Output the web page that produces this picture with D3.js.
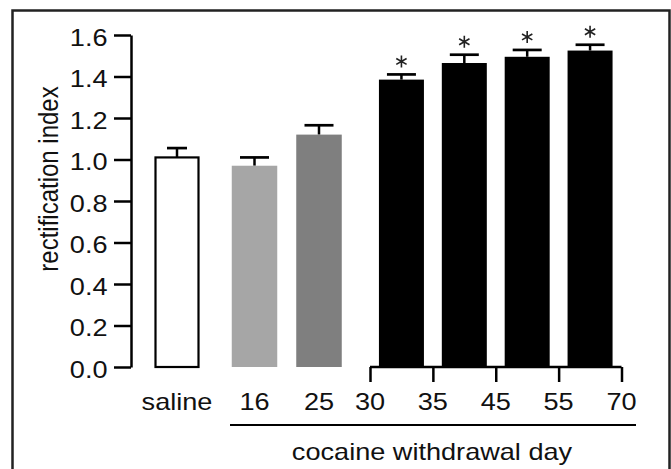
<!DOCTYPE html>
<html lang="en">
<head>
  <meta charset="UTF-8">
  <title>Rectification index</title>
  <script src="https://d3js.org/d3.v7.min.js"></script>
  <style>
    body { margin: 0; background: white; font-family: Arial, "Liberation Sans", sans-serif; }
    .axis line, .axis path { stroke: black; stroke-width: 2.5px; }
    .lbl { font-size: 24px; fill: #111; font-family: Arial, "Liberation Sans", sans-serif; }
  </style>
</head>
<body>
<svg id="chart"></svg>
<script>
// data
const controlLabels = ["saline", "16", "25"];
const controlValues = [1.01, 0.97, 1.12];
const controlErrors = [0.045, 0.04, 0.045];
const controlColors = ["white", "#a6a6a6", "#7f7f7f"];

const dayTicks = [30, 35, 45, 55, 70];
const lateValues = [1.385, 1.465, 1.495, 1.525];
const lateErrors = [0.025, 0.04, 0.033, 0.028];

const yTicks = [0, 0.2, 0.4, 0.6, 0.8, 1.0, 1.2, 1.4, 1.6];

const width = 671, height = 469;
const sx = 1.13; // the original figure is a bit wider than tall
const svg = d3.select("#chart").attr("width", width).attr("height", height);

function label(x, y, txt, anchor) {
  return svg.append("text").attr("class", "lbl")
    .attr("transform", `translate(${x},${y}) scale(${sx},1)`)
    .attr("text-anchor", anchor || "middle")
    .text(txt);
}

// frame
svg.append("path")
  .attr("d", `M12.5,${height} V10.5 H669.5 V${height}`)
  .attr("fill", "none").attr("stroke", "#222").attr("stroke-width", 2.5);

const y = d3.scaleLinear().domain([0, 1.6]).range([367, 35]);

// left categories (uneven spacing in the original)
const xc = d3.scaleOrdinal().domain(controlLabels).range([177, 254.5, 319]);
// right side is a day axis, ticks evenly spaced
const xd = d3.scalePoint().domain(dayTicks).range([370, 621.5]);

// y axis
const yAxis = svg.append("g").attr("class", "axis")
  .attr("transform", "translate(131,0)")
  .call(d3.axisLeft(y).tickValues(yTicks).tickFormat(d3.format(".1f")).tickSize(17).tickSizeOuter(0));
yAxis.selectAll("text")
  .attr("class", "lbl").attr("font-size", null).attr("font-family", null)
  .attr("x", null).attr("dy", "0.42em")
  .attr("transform", `translate(-23.5,0) scale(${sx},1)`);

// y label
svg.append("text").attr("class", "lbl")
  .attr("transform", `translate(58,179) scale(${sx},1) rotate(-90)`)
  .attr("text-anchor", "middle")
  .text("rectification index");

// control bars
controlLabels.forEach((c, i) => {
  const cx = xc(c);
  const v = controlValues[i];
  const top = y(v + controlErrors[i]);
  const half = i == 0 ? 10 : 14.5;
  svg.append("line").attr("x1", cx).attr("x2", cx).attr("y1", y(v)).attr("y2", top)
    .attr("stroke", "black").attr("stroke-width", 2.5);
  svg.append("line").attr("x1", cx - half).attr("x2", cx + half).attr("y1", top).attr("y2", top)
    .attr("stroke", "black").attr("stroke-width", 2.7);
  const bw = i == 0 ? 43 : 45.5;
  const r = svg.append("rect")
    .attr("x", cx - bw / 2).attr("y", y(v)).attr("width", bw).attr("height", y(0) - y(v))
    .attr("fill", controlColors[i]);
  if (i == 0) r.attr("stroke", "black").attr("stroke-width", 2.2);
  label(cx, 410, c);
});

// late withdrawal bars, each spans the interval between two day ticks
const star = d3.symbol().type(d3.symbolAsterisk).size(100);
lateValues.forEach((v, i) => {
  const cx = (xd(dayTicks[i]) + xd(dayTicks[i + 1])) / 2;
  const top = y(v + lateErrors[i]);
  svg.append("line").attr("x1", cx).attr("x2", cx).attr("y1", y(v)).attr("y2", top)
    .attr("stroke", "black").attr("stroke-width", 2.5);
  svg.append("line").attr("x1", cx - 14.5).attr("x2", cx + 14.5).attr("y1", top).attr("y2", top)
    .attr("stroke", "black").attr("stroke-width", 2.7);
  svg.append("rect")
    .attr("x", cx - 22.5).attr("y", y(v)).attr("width", 45).attr("height", y(0) - y(v))
    .attr("fill", "black");
  svg.append("path").attr("d", star)
    .attr("transform", `translate(${cx},${top - 13})`)
    .attr("fill", "none").attr("stroke", "#222").attr("stroke-width", 1.6);
});

// day axis
const dAxis = svg.append("g").attr("class", "axis")
  .attr("transform", `translate(0,${y(0)})`)
  .call(d3.axisBottom(xd).tickSize(15).tickSizeOuter(0).tickFormat(""));
dAxis.select(".domain").attr("d", `M${xd(30)},0H${xd(70)}`);
dayTicks.forEach(d => label(xd(d), 410, d));

// group line and label
svg.append("line").attr("x1", 230).attr("x2", 636).attr("y1", 425).attr("y2", 425)
  .attr("stroke", "black").attr("stroke-width", 2.2);
label(432, 460, "cocaine withdrawal day");
</script>
</body>
</html>
